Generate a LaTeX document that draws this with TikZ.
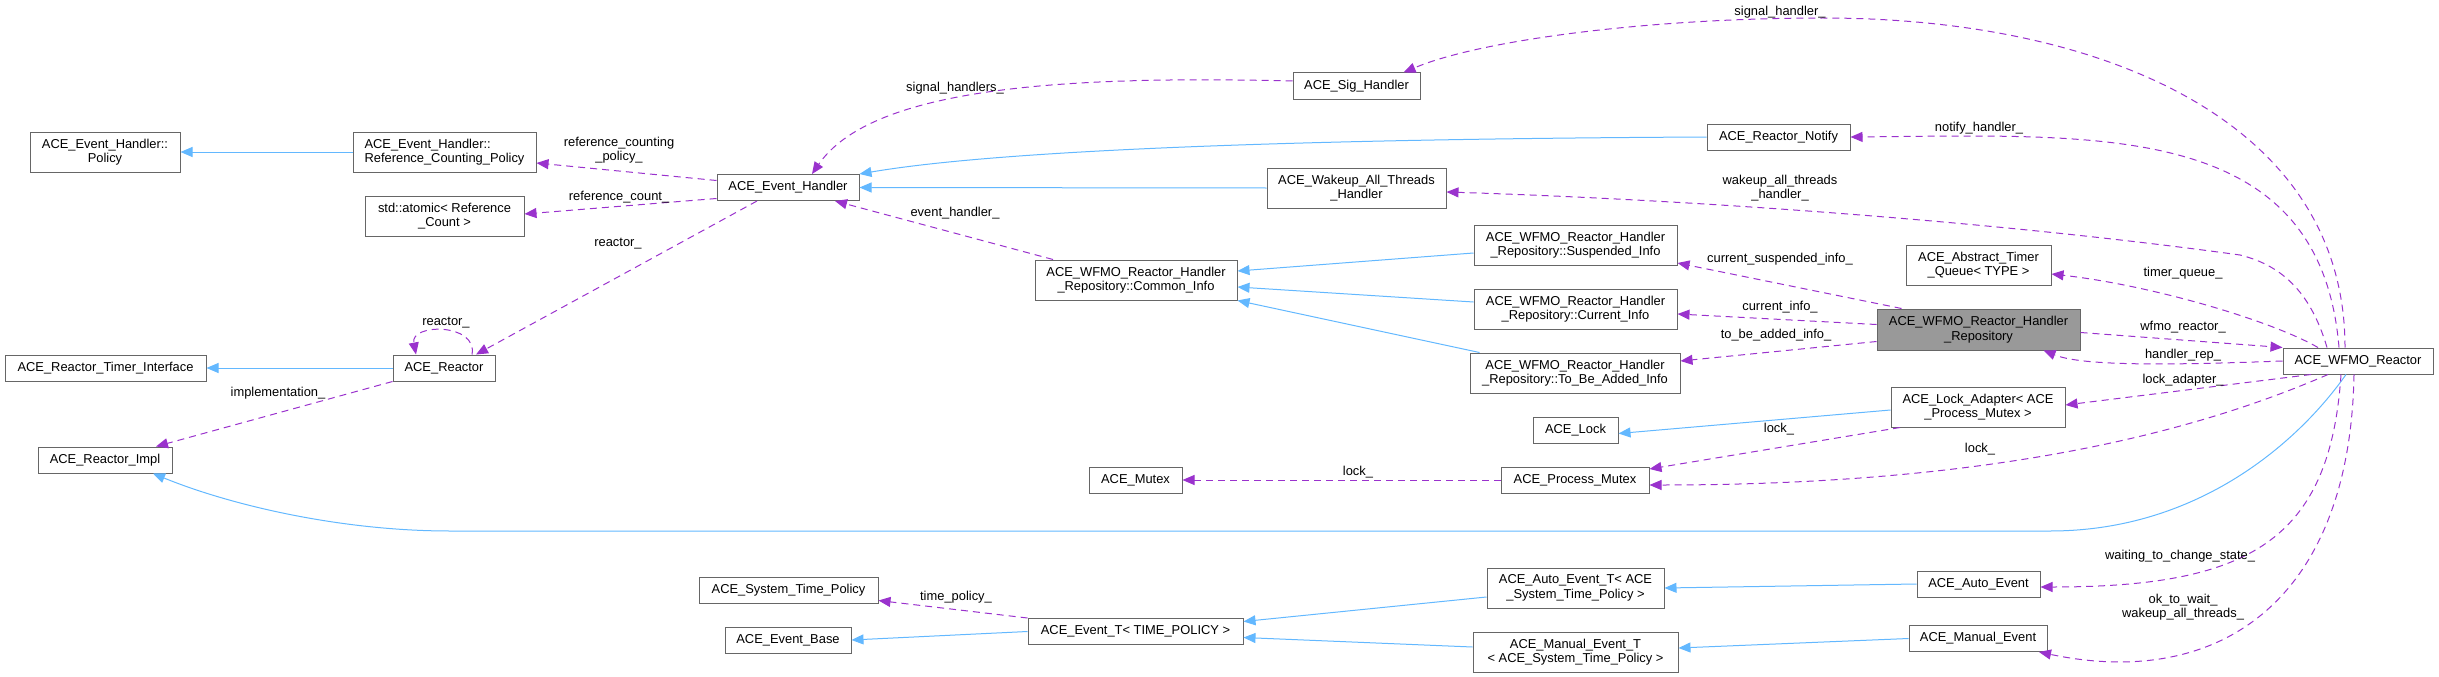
\documentclass[tikz,border=0pt]{standalone}
\usepackage{xcolor}
\usepackage{fontspec}
\setmainfont{Liberation Sans}
\usepackage{tikz}
\usetikzlibrary{arrows.meta}
\definecolor{inhBlue}{HTML}{63B8FF}
\definecolor{usePurple}{HTML}{9A32CD}
\definecolor{boxGray}{HTML}{666666}
\definecolor{repoFill}{HTML}{999999}

\begin{document}
\begin{tikzpicture}[x=1pt,y=-1pt,
	every node/.style={font=\fontsize{12.9}{14.5}\selectfont},
	cls/.style={draw=boxGray,line width=1pt,fill=white,align=center,inner sep=0pt,minimum height=26pt},
	clsTwo/.style={cls,minimum height=40pt},
	inh/.style={draw=inhBlue,line width=1pt,-{Triangle[length=12pt,width=10pt]}},
	use/.style={draw=usePurple,line width=1pt,dash pattern=on 7pt off 5pt,-{Triangle[length=12pt,width=10pt]}},
	lbl/.style={align=center,inner sep=0pt}]
	\useasboundingbox (0,0) rectangle (2439,677);
	
	% Classes
	\node[clsTwo,minimum width=150pt] (policy) at (105,152) {ACE\_Event\_Handler::\\Policy};
	\node[clsTwo,minimum width=183pt,align=left] (refCountPolicy) at (444.5,152) {ACE\_Event\_Handler::\\Reference\_Counting\_Policy};
	\node[clsTwo,minimum width=159pt] (atomicCount) at (444.5,216) {std::atomic< Reference\\\_Count >};
	\node[cls,minimum width=142pt] (eventHandler) at (788,187.5) {ACE\_Event\_Handler};
	\node[cls,minimum width=127pt] (sigHandler) at (1356.5,86) {ACE\_Sig\_Handler};
	\node[cls,minimum width=143pt] (reactorNotify) at (1778.5,137) {ACE\_Reactor\_Notify};
	\node[clsTwo,minimum width=179pt] (wakeupHandler) at (1356.5,188) {ACE\_Wakeup\_All\_Threads\\\_Handler};
	\node[clsTwo,minimum width=202pt] (commonInfo) at (1136,280) {ACE\_WFMO\_Reactor\_Handler\\\_Repository::Common\_Info};
	\node[clsTwo,minimum width=203pt] (suspendedInfo) at (1575.5,245) {ACE\_WFMO\_Reactor\_Handler\\\_Repository::Suspended\_Info};
	\node[clsTwo,minimum width=203pt] (currentInfo) at (1575.5,309) {ACE\_WFMO\_Reactor\_Handler\\\_Repository::Current\_Info};
	\node[clsTwo,minimum width=210pt] (toBeAddedInfo) at (1575,373) {ACE\_WFMO\_Reactor\_Handler\\\_Repository::To\_Be\_Added\_Info};
	\node[clsTwo,minimum width=145pt] (timerQueue) at (1978.5,265) {ACE\_Abstract\_Timer\\\_Queue< TYPE >};
	\node[clsTwo,minimum width=203pt,minimum height=41pt,fill=repoFill] (handlerRepo) at (1978.5,329.5) {ACE\_WFMO\_Reactor\_Handler\\\_Repository};
	\node[cls,minimum width=150pt] (wfmoReactor) at (2358,361) {ACE\_WFMO\_Reactor};
	\node[clsTwo,minimum width=174pt] (lockAdapter) at (1978,407) {ACE\_Lock\_Adapter< ACE\\\_Process\_Mutex >};
	\node[cls,minimum width=85pt] (aceLock) at (1575.5,430.5) {ACE\_Lock};
	\node[cls,minimum width=148pt] (processMutex) at (1575,480) {ACE\_Process\_Mutex};
	\node[cls,minimum width=93pt] (aceMutex) at (1135.5,480) {ACE\_Mutex};
	\node[cls,minimum width=102pt] (aceReactor) at (444,368) {ACE\_Reactor};
	\node[cls,minimum width=201pt] (timerInterface) at (105.5,368) {ACE\_Reactor\_Timer\_Interface};
	\node[cls,minimum width=134pt] (reactorImpl) at (105,460) {ACE\_Reactor\_Impl};
	\node[cls,minimum width=179pt] (systemTimePolicy) at (788.5,590.5) {ACE\_System\_Time\_Policy};
	\node[cls,minimum width=126pt] (eventBase) at (788,640) {ACE\_Event\_Base};
	\node[cls,minimum width=215pt] (eventT) at (1135.5,631.5) {ACE\_Event\_T< TIME\_POLICY >};
	\node[clsTwo,minimum width=177pt] (autoEventT) at (1575.5,588) {ACE\_Auto\_Event\_T< ACE\\\_System\_Time\_Policy >};
	\node[clsTwo,minimum width=205pt] (manualEventT) at (1575.5,652) {ACE\_Manual\_Event\_T\\< ACE\_System\_Time\_Policy >};
	\node[cls,minimum width=123pt] (autoEvent) at (1978.5,584) {ACE\_Auto\_Event};
	\node[cls,minimum width=138pt] (manualEvent) at (1978,638.5) {ACE\_Manual\_Event};
	
	% Inheritance
	\draw[inh] (refCountPolicy.west) -- (policy.east);
	\draw[inh] (aceReactor.west) -- (timerInterface.east);
	\draw[inh] (wakeupHandler.west) -- (eventHandler.east);
	\draw[inh] (reactorNotify.west) .. controls (1300,139) and (1000,150) .. (eventHandler.north east);
	\draw[inh] ([yshift=-8pt]suspendedInfo.west) -- ([yshift=9pt]commonInfo.east);
	\draw[inh] ([yshift=7pt]currentInfo.west) -- ([yshift=-7pt]commonInfo.east);
	\draw[inh] ([xshift=10pt]toBeAddedInfo.north west) -- (commonInfo.south east);
	\draw[inh] ([yshift=-3pt]lockAdapter.west) -- ([yshift=-3pt]aceLock.east);
	\draw[inh] ([xshift=-12pt]wfmoReactor.south) .. controls (2300,440) and (2200,531) .. (2050,531) -- (450,531) .. controls (340,531) and (230,505) .. ([xshift=48pt]reactorImpl.south);
	\draw[inh] (autoEvent.west) -- (autoEventT.east);
	\draw[inh] (manualEvent.west) -- ([yshift=4pt]manualEventT.east);
	\draw[inh] ([yshift=-9pt]autoEventT.west) -- ([yshift=10pt]eventT.east);
	\draw[inh] ([yshift=5pt]manualEventT.west) -- ([yshift=-6pt]eventT.east);
	\draw[inh] (eventT.west) -- (eventBase.east);
	
	% Members
	\draw[use] ([yshift=7pt]eventHandler.west) -- ([yshift=-11pt]refCountPolicy.east);
	\draw[use] ([yshift=-11pt]eventHandler.west) -- ([yshift=2pt]atomicCount.east);
	\draw[use] ([xshift=-31pt]eventHandler.south) -- ([xshift=32pt]aceReactor.north);
	\draw[use] ([xshift=28pt]aceReactor.north) .. controls (478,323) and (410,323) .. ([xshift=-28pt]aceReactor.north);
	\draw[use] ([xshift=-83pt]commonInfo.north) -- ([xshift=47pt]eventHandler.south);
	\draw[use] ([yshift=5pt]sigHandler.west) .. controls (1050,75) and (870,90) .. ([xshift=24pt]eventHandler.north);
	\draw[use] ([xshift=-13pt]wfmoReactor.north) .. controls (2345,120) and (2100,18) .. (1823,18) .. controls (1650,18) and (1480,40) .. ([xshift=47pt]sigHandler.north);
	\draw[use] ([xshift=-19pt]wfmoReactor.north) .. controls (2320,120) and (2100,135) .. (reactorNotify.east);
	\draw[use] ([xshift=-31pt]wfmoReactor.north) .. controls (2310,290) and (2280,265) .. (2240,255) .. controls (2000,222) and (1700,200) .. ([yshift=-4pt]wakeupHandler.east);
	\draw[use] ([xshift=-77pt]handlerRepo.north) -- ([yshift=-18pt]suspendedInfo.east);
	\draw[use] ([yshift=5pt]handlerRepo.west) -- ([yshift=-5pt]currentInfo.east);
	\draw[use] ([yshift=-12pt]handlerRepo.west) -- ([yshift=12pt]toBeAddedInfo.east);
	\draw[use] ([xshift=-40pt]wfmoReactor.north) .. controls (2270,320) and (2150,285) .. ([yshift=-9pt]timerQueue.east);
	\draw[use] ([yshift=-3pt]handlerRepo.east) -- (wfmoReactor.north west);
	\draw[use] (wfmoReactor.west) .. controls (2150,366) and (2080,365) .. ([xshift=65pt]handlerRepo.south);
	\draw[use] ([xshift=-47pt]wfmoReactor.south) -- ([yshift=2pt]lockAdapter.east);
	\draw[use] ([xshift=-30pt]wfmoReactor.south) .. controls (2200,430) and (2000,485) .. ([yshift=-5pt]processMutex.east);
	\draw[use] ([xshift=-78pt]lockAdapter.south) -- ([yshift=11pt]processMutex.east);
	\draw[use] (processMutex.west) -- (aceMutex.east);
	\draw[use] ([xshift=-17pt]wfmoReactor.south) .. controls (2330,540) and (2250,587) .. ([yshift=-3pt]autoEvent.east);
	\draw[use] ([xshift=-4pt]wfmoReactor.south) .. controls (2350,600) and (2220,690) .. ([xshift=61pt]manualEvent.south);
	\draw[use] (eventT.north west) -- ([yshift=-10pt]systemTimePolicy.east);
	\draw[use] (aceReactor.south west) -- ([xshift=51pt]reactorImpl.north);
	
	% Member names
	\node[lbl] (lRefPolicy) at (619,150) {reference\_counting\\\_policy\_};
	\node[lbl] (lRefCount) at (619,197) {reference\_count\_};
	\node[lbl] (lReactor) at (618,244) {reactor\_};
	\node[lbl] (lReactorSelf) at (446,323) {reactor\_};
	\node[lbl] (lSigHandlers) at (955,88) {signal\_handlers\_};
	\node[lbl] (lEventHandler) at (955,213) {event\_handler\_};
	\node[lbl] (lSigHandler) at (1780,12) {signal\_handler\_};
	\node[lbl] (lNotify) at (1979,128) {notify\_handler\_};
	\node[lbl] (lWakeup) at (1780,188) {wakeup\_all\_threads\\\_handler\_};
	\node[lbl] (lSuspended) at (1780,259) {current\_suspended\_info\_};
	\node[lbl] (lCurrent) at (1780,307) {current\_info\_};
	\node[lbl] (lToBeAdded) at (1776,335) {to\_be\_added\_info\_};
	\node[lbl] (lTimerQueue) at (2183,273) {timer\_queue\_};
	\node[lbl] (lWfmo) at (2183,327) {wfmo\_reactor\_};
	\node[lbl] (lHandlerRep) at (2183,355) {handler\_rep\_};
	\node[lbl] (lLockAdapter) at (2183,380) {lock\_adapter\_};
	\node[lbl] (lLockA) at (1779,429) {lock\_};
	\node[lbl] (lLockB) at (1980,449) {lock\_};
	\node[lbl] (lLockC) at (1358,472) {lock\_};
	\node[lbl] (lWaiting) at (2180,556) {waiting\_to\_change\_state\_};
	\node[lbl] (lOkToWait) at (2183,607) {ok\_to\_wait\_\\wakeup\_all\_threads\_};
	\node[lbl] (lTimePolicy) at (956,597) {time\_policy\_};
	\node[lbl] (lImpl) at (278,393) {implementation\_};
\end{tikzpicture}
\end{document}
